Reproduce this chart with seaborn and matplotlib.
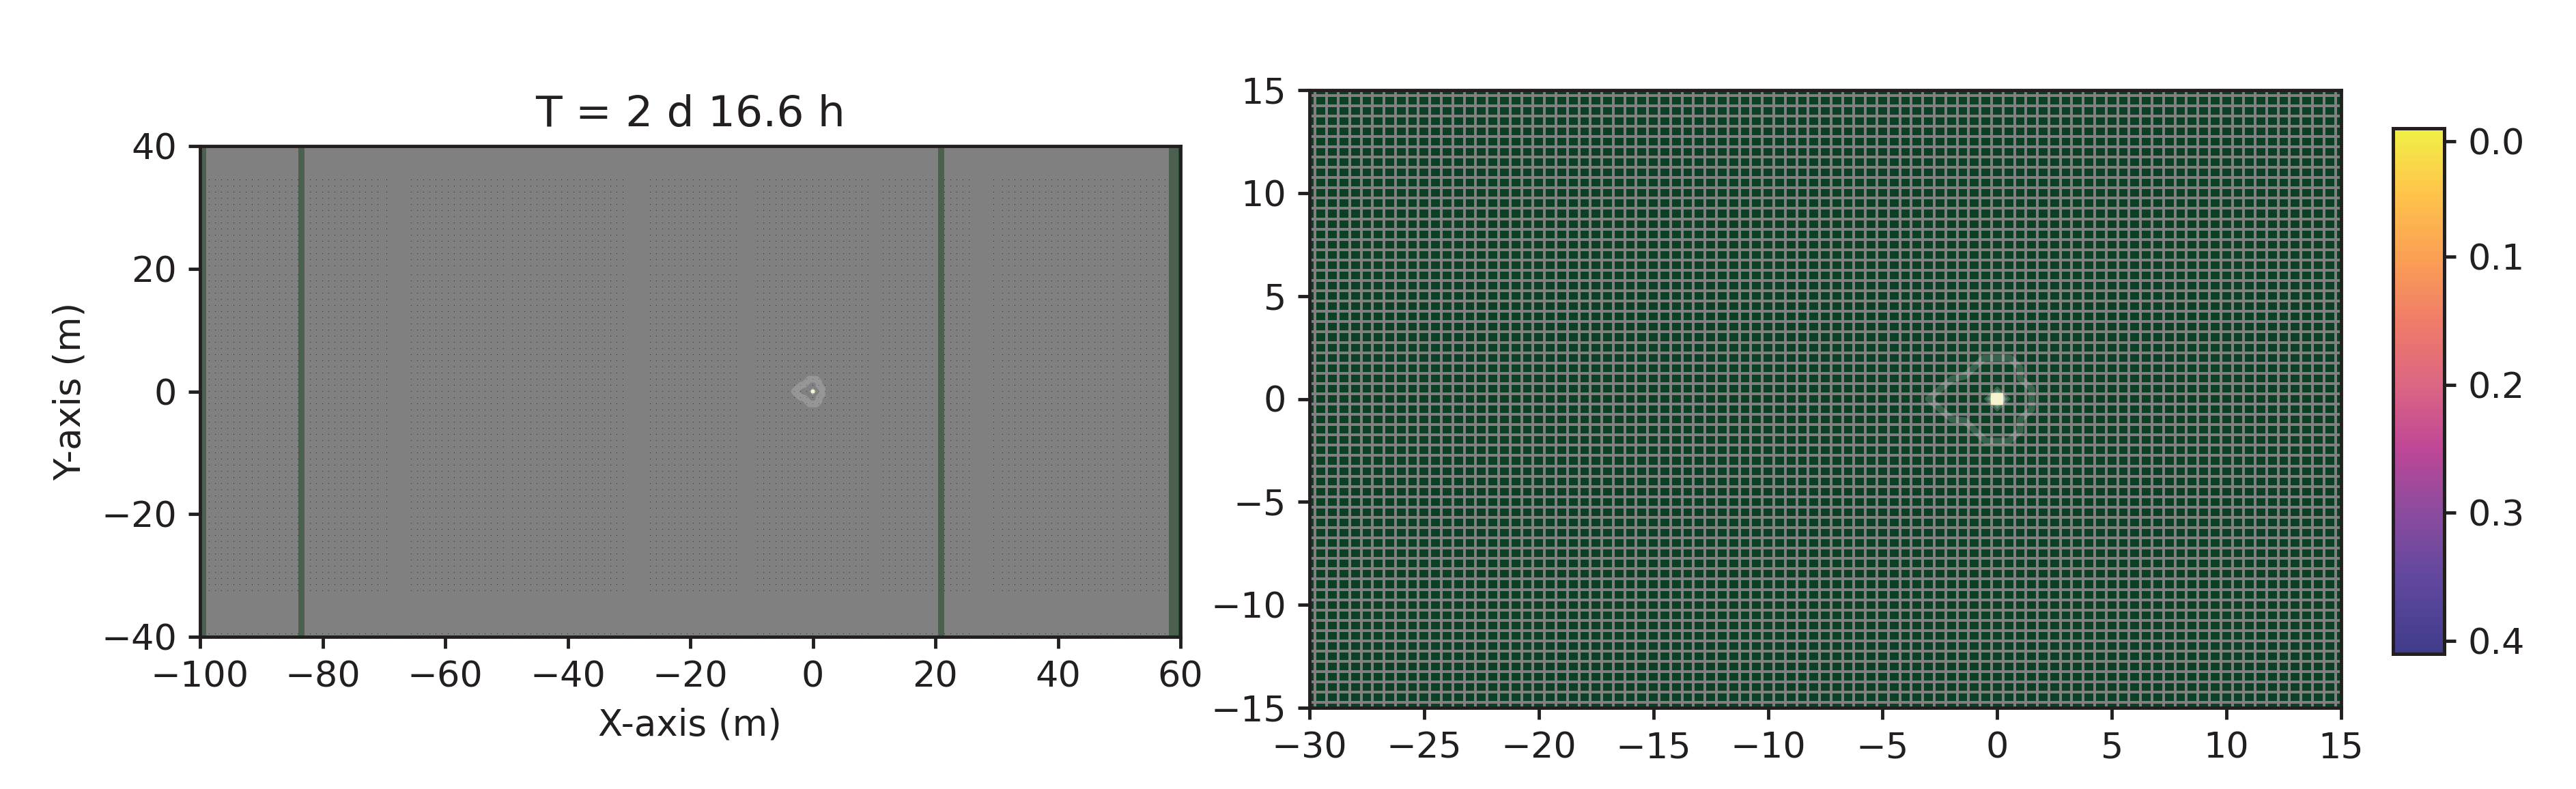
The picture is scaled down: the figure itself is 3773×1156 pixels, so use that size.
import numpy as np
import seaborn as sns
import matplotlib
matplotlib.use("Agg")
import matplotlib.pyplot as plt
from matplotlib.colors import LinearSegmentedColormap
from matplotlib.patches import Polygon

# ---------- data ----------
title_text = "T = 2 d 16.6 h"
x_label = "X-axis (m)"
y_label = "Y-axis (m)"
left_xlim = [-100, 60]
left_ylim = [-40, 40]
right_xlim = [-30, 15]
right_ylim = [-15, 15]
left_xticks = [-100, -80, -60, -40, -20, 0, 20, 40, 60]
left_yticks = [-40, -20, 0, 20, 40]
right_xticks = [-30, -25, -20, -15, -10, -5, 0, 5, 10, 15]
right_yticks = [-15, -10, -5, 0, 5, 10, 15]
cbar_ticks = [0.01, 0.1, 0.2, 0.3, 0.4]
cbar_labels = ["0.0", "0.1", "0.2", "0.3", "0.4"]
cell_size = 0.5
background_value = 0.9
center_value = 0.0
ring_x = [-3.0, -1.96, -1.42, -0.58, 0.56, 1.0, 1.0, 1.5, 1.5, 1.0, 1.0, 0.5, -0.5, -1.42, -1.96]
ring_y = [0.0, 0.98, 1.1, 1.99, 1.99, 1.5, 1.0, 0.5, -0.5, -1.0, -1.55, -2.05, -2.05, -1.05, -1.0]
glow_x = [0.58, 0.46, 0.36]
glow_y = [0.62, 0.48, 0.36]
band_spans = [(-99.7, -99.0), (-83.9, -82.9), (20.5, 21.4), (58.1, 59.7)]
band_dark = (59.7, 60.0)
sparse_x_zones = [(-88.0, -84.4), (-69.1, -65.5), (-49.6, -45.4), (-31.1, -26.8),
                  (-11.6, -8.4), (7.7, 11.1), (26.5, 29.5), (46.0, 49.1)]
sparse_y_zones = [(34.8, 40.0), (10.3, 14.6), (-14.2, -9.8), (-39.5, -33.4)]
cbar_stops = [0.0, 0.05, 0.1, 0.15, 0.2, 0.25, 0.3, 0.35, 0.41]
cbar_colors = ["#f0f046", "#ffc44a", "#fba055", "#f07c68", "#dc6682",
               "#bf4796", "#8b4b9e", "#62489e", "#3f3c8c"]

# ---------- style ----------
sns.set_theme(style="ticks")
INK = "#231f20"
GRID = "#808080"
plt.rcParams.update({
    "font.family": ["DejaVu Sans"], "font.size": 11,
    "text.color": INK, "axes.labelcolor": INK,
    "xtick.color": INK, "ytick.color": INK, "axes.edgecolor": INK,
    "axes.linewidth": 1.0, "xtick.major.width": 1.0, "ytick.major.width": 1.0,
    "xtick.major.size": 3.5, "ytick.major.size": 3.5,
    "xtick.labelsize": 10.8, "ytick.labelsize": 10.8, "axes.labelsize": 10.9,
    "axes.titlesize": 13,
})

W, H, DPI = 3773, 1156, 350
fig = plt.figure(figsize=(W / DPI, H / DPI), dpi=DPI, facecolor="white")


def axes_px(x0, y0, x1, y1):
    return fig.add_axes([x0 / W, 1 - y1 / H, (x1 - x0) / W, (y1 - y0) / H])


ax1 = axes_px(293, 214, 1729, 933)
ax2 = axes_px(1918, 132, 3429, 1037)
cax = axes_px(3505, 188, 3580, 958)

VMIN, VMAX = 0.0, 0.41
cmap = LinearSegmentedColormap.from_list(
    "sat", [(s / VMAX, c) for s, c in zip(cbar_stops, cbar_colors)], N=256)
cmap.set_over("#0c4024")


def draw(ax, xlim, ylim, xticks, yticks, lw, with_cbar):
    nx = int(round((xlim[1] - xlim[0]) / cell_size)) + 1
    ny = int(round((ylim[1] - ylim[0]) / cell_size)) + 1
    field = np.full((ny, nx), background_value)
    x0 = xlim[0] - cell_size / 2
    ytop = ylim[1] + cell_size / 2
    fx = lambda v: (np.asarray(v, float) - x0) / cell_size
    fy = lambda v: (ytop - np.asarray(v, float)) / cell_size
    field[int(fy(0)), int(fx(0))] = center_value
    sns.heatmap(field, ax=ax, cmap=cmap, vmin=VMIN, vmax=VMAX,
                linewidths=lw, linecolor=GRID,
                cbar=with_cbar, cbar_ax=cax if with_cbar else None,
                xticklabels=False, yticklabels=False)
    ax.set_xlim(fx(xlim[0]), fx(xlim[1]))
    ax.set_ylim(fy(ylim[0]), fy(ylim[1]))
    ax.set_xticks(fx(xticks))
    ax.set_xticklabels([str(t).replace("-", "\u2212") for t in xticks])
    ax.set_yticks(fy(yticks))
    ax.set_yticklabels([str(t).replace("-", "\u2212") for t in yticks], rotation=0)
    ax.tick_params(axis="both", length=3.5, width=1.0, left=True, bottom=True,
                   labelleft=True, labelbottom=True)
    for s in ax.spines.values():
        s.set_visible(True)
        s.set_linewidth(1.0)
        s.set_edgecolor(INK)
        s.set_zorder(10)
    # central saturated cell and halo
    ax.fill(fx([-0.27, 0.27, 0.27, -0.27]), fy([-0.27, -0.27, 0.27, 0.27]),
            color="#eeeea6", lw=0, zorder=5)
    for gx, gy in zip(glow_x, glow_y):
        ax.add_patch(Polygon(np.c_[fx([-gx, 0, gx, 0]), fy([0, gy, 0, -gy])],
                             closed=True, fc="white", ec="none", alpha=0.2, zorder=6))
    # contour ring
    ax.add_patch(Polygon(np.c_[fx(ring_x), fy(ring_y)], closed=True, fill=False,
                         ec="white", lw=2.0, alpha=0.18, zorder=4, joinstyle="round"))
    return fx, fy


fx1, fy1 = draw(ax1, left_xlim, left_ylim, left_xticks, left_yticks, 0.72, False)
fx2, fy2 = draw(ax2, right_xlim, right_ylim, right_xticks, right_yticks, 0.72, True)

# areas of the left panel where every second row/column of gaps disappears
for a, b in sparse_x_zones:
    cols = np.arange(np.floor(fx1(a) / 2) * 2 + 1.5, fx1(b), 2)
    ax1.vlines(cols, *ax1.get_ylim(), color=GRID, lw=1.0, zorder=2.5)
for a, b in sparse_y_zones:
    lo, hi = sorted((float(fy1(a)), float(fy1(b))))
    rows = np.arange(np.floor(lo / 2) * 2 + 1.5, hi, 2)
    ax1.hlines(rows, *ax1.get_xlim(), color=GRID, lw=1.0, zorder=2.5)

for a, b in band_spans:
    ax1.axvspan(fx1(a), fx1(b), color="#4b604e", lw=0, zorder=3)
ax1.axvspan(fx1(band_dark[0]), fx1(band_dark[1]), color="#1f4a30", lw=0, zorder=3)

ax1.set_title(title_text, pad=6)
ax1.set_xlabel(x_label, labelpad=4)
ax1.set_ylabel(y_label, labelpad=4)

# colourbar: zero at the top
cax.set_ylim(VMAX, VMIN)
cax.yaxis.set_ticks_position("right")
cax.set_yticks(cbar_ticks)
cax.set_yticklabels(cbar_labels)
cax.tick_params(axis="y", length=3.5, width=1.0, right=True, labelright=True, left=False)
for s in cax.spines.values():
    s.set_visible(True)
    s.set_linewidth(1.0)
    s.set_edgecolor(INK)

fig.savefig("out.png", dpi=DPI, facecolor="white")
